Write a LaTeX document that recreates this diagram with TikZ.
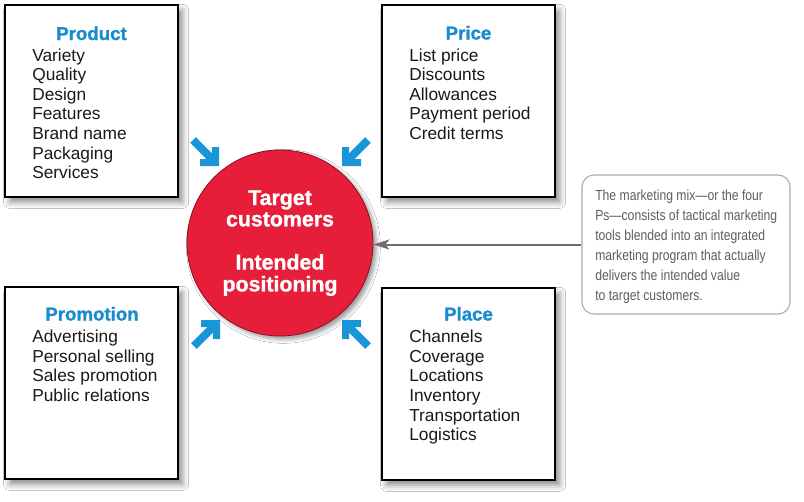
\documentclass[tikz,border=0pt]{standalone}
\usepackage{fontspec}
\setmainfont{Liberation Sans}
\newfontfamily\condfont[FakeStretch=0.83]{Liberation Sans}
\newfontfamily\heavyfont[BoldFeatures={FakeBold=1.2}]{Liberation Sans}
\usetikzlibrary{shadows.blur,arrows.meta}
\definecolor{headblue}{RGB}{24,140,206}
\definecolor{arrowblue}{RGB}{24,150,216}
\definecolor{circred}{RGB}{230,30,58}
\definecolor{notegray}{RGB}{95,95,95}
\definecolor{noteborder}{RGB}{170,170,170}
\definecolor{linkgray}{RGB}{110,110,110}
\newcommand{\itemlist}[1]{\fontsize{13}{14.7}\selectfont\begin{tabular}[t]{@{}l@{}}#1\end{tabular}}
\tikzset{
  mixbox/.style={draw=black, line width=1.1pt, fill=white, minimum width=129.75pt,
    minimum height=144pt, inner sep=0pt,
    blur shadow={shadow xshift=3.5pt, shadow yshift=-4pt, shadow blur radius=4.5pt, shadow opacity=45}},
  headtxt/.style={font=\heavyfont\bfseries\fontsize{14}{16}\selectfont, text=headblue, anchor=base, inner sep=0pt},
  itemtxt/.style={anchor=base west, inner sep=0pt, text=black!90},
  bluearrow/.pic={
    \fill[arrowblue] (0,0) -- (0,-19) -- (-7,-19) -- (-7,-7) -- (-19,-7) -- (-19,0) -- cycle;
    \draw[arrowblue, line width=6pt] (-5,-5) -- (-26,-26);
  }
}
\begin{document}
\begin{tikzpicture}[x=0.75pt,y=-0.75pt]
\fill[white] (0,0) rectangle (804,501);
\useasboundingbox (0,0) rectangle (804,501);

% boxes
\node[mixbox] (product) at (91.5,101) {};
\node[mixbox] (price) at (468.5,101) {};
\node[mixbox] (promotion) at (91.5,383) {};
\node[mixbox] (place) at (468.5,384) {};
\draw[line width=2pt] (382,127) -- (382,185);
\draw[line width=2pt] (382,312) -- (382,368);

% headings
\node[headtxt] (producth) at (91.5,40) {Product};
\node[headtxt] (priceh) at (468.5,39.5) {Price};
\node[headtxt] (promotionh) at (92,320.5) {Promotion};
\node[headtxt] (placeh) at (468.5,320.5) {Place};

% item lists
\node[itemtxt] (productl) at (32,61) {\itemlist{Variety\\Quality\\Design\\Features\\Brand name\\Packaging\\Services}};
\node[itemtxt] (pricel) at (409,61) {\itemlist{List price\\Discounts\\Allowances\\Payment period\\Credit terms}};
\node[itemtxt] (promotionl) at (32,342.7) {\itemlist{Advertising\\Personal selling\\Sales promotion\\Public relations}};
\node[itemtxt] (placel) at (409,342.7) {\itemlist{Channels\\Coverage\\Locations\\Inventory\\Transportation\\Logistics}};

% circle
\node[circle, fill=circred, draw=circred!60!black, line width=0.6pt, minimum size=139.5pt, inner sep=0pt,
  blur shadow={shadow xshift=2.5pt, shadow yshift=-2.5pt, shadow blur radius=3pt, shadow opacity=40}] (c) at (280,243) {};
\node[anchor=base, inner sep=0pt, text=white, font=\heavyfont\bfseries] (ctext) at (280,205)
  {\fontsize{16}{16}\selectfont\begin{tabular}[t]{@{}c@{}}Target\\customers\\[16pt]Intended\\positioning\end{tabular}};

% blue arrows
\pic[shift={(219,166)}] {bluearrow};
\pic[shift={(342,166)}, xscale=-1] {bluearrow};
\pic[shift={(220,320)}, yscale=-1] {bluearrow};
\pic[shift={(342,320)}, xscale=-1, yscale=-1] {bluearrow};

% note
\node[draw=noteborder, fill=white, rounded corners=9pt, minimum width=156pt, minimum height=104.25pt,
  line width=0.8pt, inner sep=0pt] (note) at (686,244.5) {};
\node[anchor=base west, inner sep=0pt, text=notegray] (notetext) at (595,200.7)
  {\condfont\fontsize{11}{14.9}\selectfont\begin{tabular}[t]{@{}l@{}}The marketing mix—or the four\\Ps—consists of tactical marketing\\tools blended into an integrated\\marketing program that actually\\delivers the intended value\\to target customers.\end{tabular}};
\draw[linkgray, line width=1.5pt, -{Stealth[length=12pt,width=7.5pt,inset=3pt]}] (note.west) -- (note.west -| c.east);
\end{tikzpicture}
\end{document}
